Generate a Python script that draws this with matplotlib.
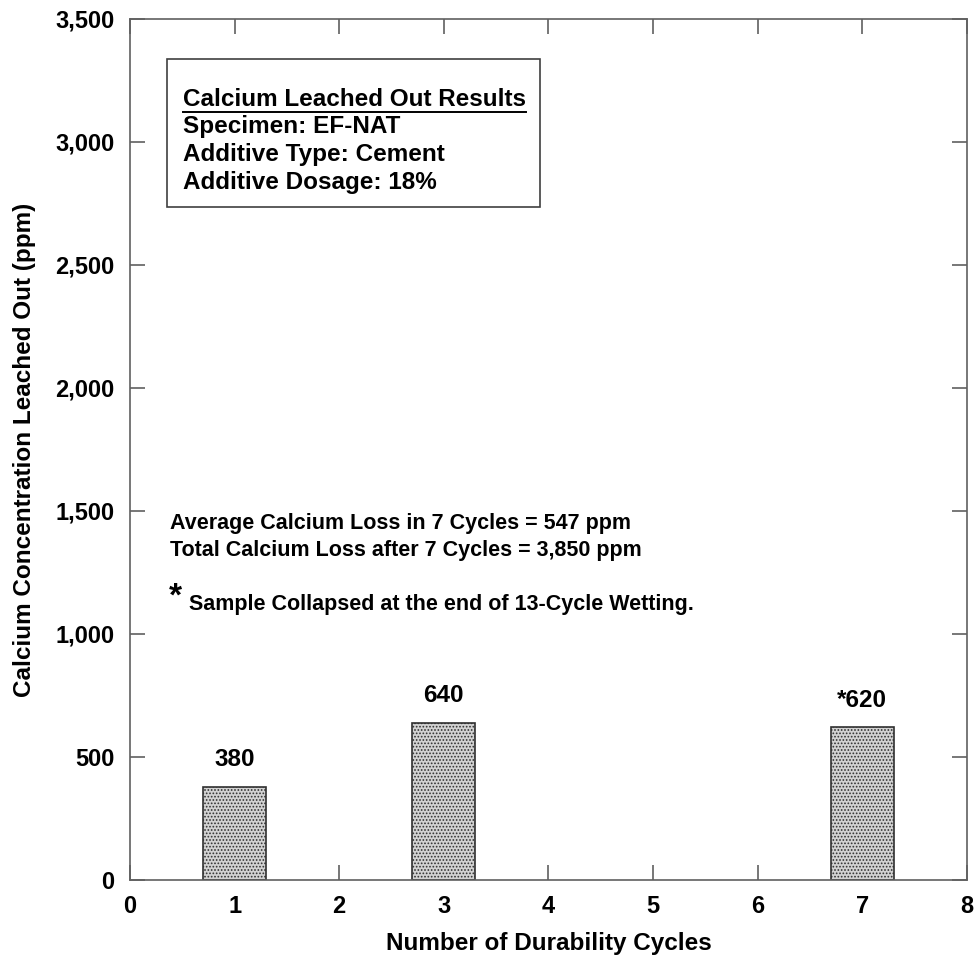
import matplotlib.pyplot as plt
from matplotlib.ticker import FuncFormatter

plt.rcParams['font.family'] = ['Liberation Sans', 'DejaVu Sans']
plt.rcParams['font.weight'] = 'bold'
plt.rcParams['hatch.color'] = '#8a8a8a'
plt.rcParams['hatch.linewidth'] = 0.8

cycles = [1, 3, 7]
calcium = [380, 640, 620]
bar_labels = ['380', '640', '*620']

box_title = 'Calcium Leached Out Results'
box_lines = ['Specimen: EF-NAT', 'Additive Type: Cement', 'Additive Dosage: 18%']
note_lines = ['Average Calcium Loss in 7 Cycles = 547 ppm',
              'Total Calcium Loss after 7 Cycles = 3,850 ppm']
collapse_note = 'Sample Collapsed at the end of 13-Cycle Wetting.'

fig = plt.figure(figsize=(9.79, 9.64), dpi=100)
ax = fig.add_axes([130 / 979, 1 - 880 / 964, 837 / 979, 861 / 964])

ax.bar(cycles, calcium, width=0.6, facecolor='#d2d2d2', edgecolor='#303030',
       linewidth=1.2, hatch='.....', zorder=2)

for x, v, lab in zip(cycles, calcium, bar_labels):
    ax.text(x, v + 110, lab, ha='center', va='center', fontsize=17.5, fontweight='bold')

ax.set_xlim(0, 8)
ax.set_ylim(0, 3500)
ax.set_xticks(range(0, 9))
ax.set_yticks(range(0, 3501, 500))
ax.yaxis.set_major_formatter(FuncFormatter(lambda v, p: f'{int(v):,}'))
ax.tick_params(direction='in', top=True, right=True, length=11, width=1.2,
               labelsize=17, color='#606060', pad=11)
for lab in ax.get_xticklabels() + ax.get_yticklabels():
    lab.set_fontweight('bold')
for s in ax.spines.values():
    s.set_color('#606060')
    s.set_linewidth(1.2)

ax.set_xlabel('Number of Durability Cycles', fontsize=17.5, fontweight='bold', labelpad=10)
ax.set_ylabel('Calcium Concentration Leached Out (ppm)', fontsize=17.5, fontweight='bold',
              labelpad=14)

# info box
ax.add_patch(plt.Rectangle((0.0442, 0.7817), 0.4456, 0.1718, transform=ax.transAxes,
                           facecolor='white', edgecolor='#404040', linewidth=1.2, zorder=3))
ax.text(0.0633, 0.906, box_title, transform=ax.transAxes, fontsize=17.5, fontweight='bold',
        va='center', zorder=4)
ax.plot([0.0633, 0.4735], [0.8925, 0.8925], transform=ax.transAxes, color='black',
        linewidth=1.4, zorder=4)
for i, t in enumerate(box_lines):
    ax.text(0.0633, 0.8746 - i * 0.0325, t, transform=ax.transAxes, fontsize=17.5,
            fontweight='bold', va='center', zorder=4)

for i, t in enumerate(note_lines):
    ax.text(0.382, 1451 - i * 110, t, fontsize=15.5, fontweight='bold', va='center')
ax.text(0.43, 1150, '*', fontsize=24, fontweight='bold', ha='center', va='center')
ax.text(0.56, 1118, collapse_note, fontsize=15.5, fontweight='bold', va='center')

fig.savefig('out.png', dpi=100)
